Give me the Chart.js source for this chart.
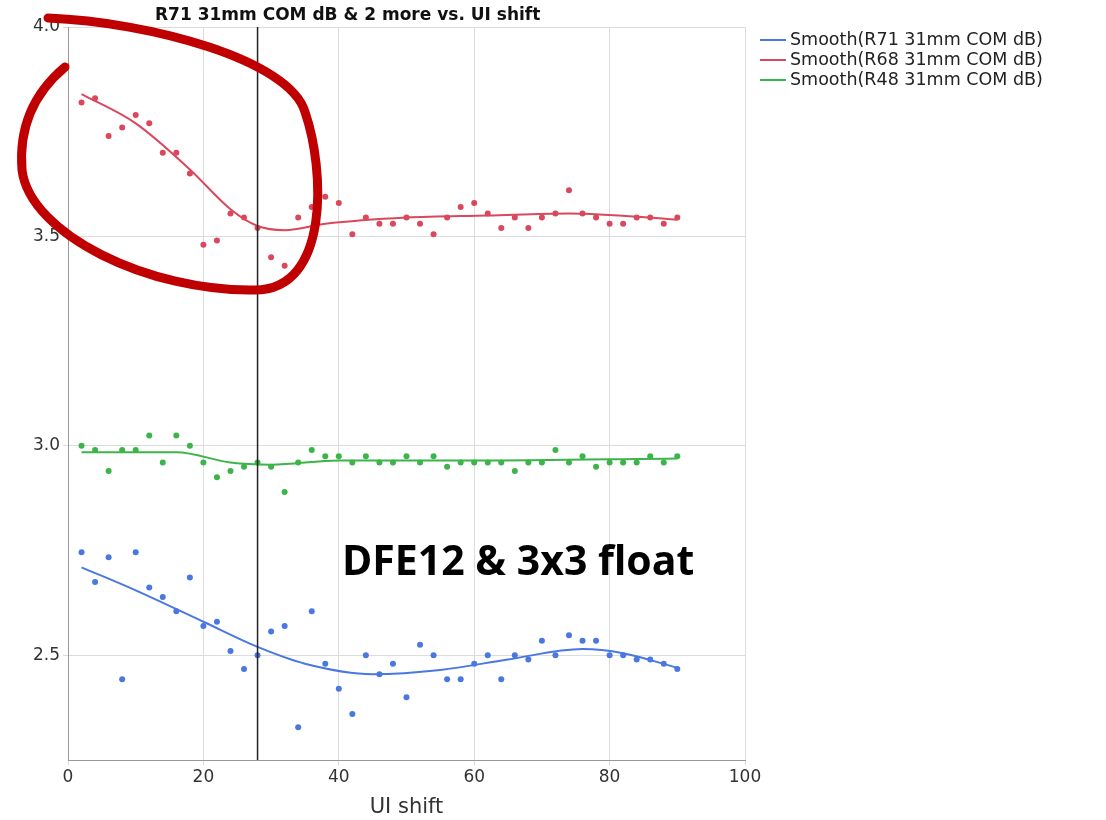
<!DOCTYPE html>
<html>
<head>
<meta charset="utf-8">
<script src="https://cdn.jsdelivr.net/npm/chart.js@4"></script>
<style>
  body { margin: 0; background: #fff; font-family: "Liberation Sans", Arial, sans-serif; }
  #wrap { position: relative; width: 1106px; height: 820px; }
  #title { position: absolute; left: 155px; top: 4px; font-family: "DejaVu Sans", sans-serif; font-weight: bold; font-size: 17px; color: #111; }
  #legend { position: absolute; left: 760px; top: 29px; font-family: "DejaVu Sans", sans-serif; font-size: 17.5px; color: #222; line-height: 20px; }
  #legend span.ln { display: inline-block; width: 26px; height: 2px; vertical-align: middle; margin-right: 4px; }
  #note { position: absolute; left: 342px; top: 531px; font-family: "Open Sans", Calibri, sans-serif; font-weight: bold; font-size: 41px; color: #000; }
</style>
</head>
<body>
<div id="wrap">
  <canvas id="myChart" width="1106" height="820"></canvas>
  <div id="title">R71 31mm COM dB &amp; 2 more vs. UI shift</div>
  <div id="legend">
    <div><span class="ln" style="background:#4a78e0"></span>Smooth(R71 31mm COM dB)</div>
    <div><span class="ln" style="background:#d9485c"></span>Smooth(R68 31mm COM dB)</div>
    <div><span class="ln" style="background:#3cb44a"></span>Smooth(R48 31mm COM dB)</div>
  </div>
  <div id="note">DFE12 &amp; 3x3 float</div>
</div>
<script>
const uiShift = [2,4,6,8,10,12,14,16,18,20,22,24,26,28,30,32,34,36,38,40,42,44,46,48,50,52,54,56,58,60,62,64,66,68,70,72,74,76,78,80,82,84,86,88,90];
const r71 = [2.746,2.675,2.734,2.443,2.746,2.662,2.639,2.605,2.686,2.57,2.58,2.51,2.467,2.50,2.557,2.57,2.328,2.605,2.48,2.42,2.36,2.50,2.455,2.48,2.40,2.525,2.50,2.443,2.443,2.48,2.50,2.443,2.50,2.49,2.535,2.50,2.548,2.535,2.535,2.50,2.50,2.49,2.49,2.48,2.467];
const r68 = [3.82,3.83,3.74,3.76,3.79,3.77,3.70,3.70,3.65,3.48,3.49,3.555,3.545,3.52,3.45,3.43,3.545,3.57,3.595,3.58,3.505,3.545,3.53,3.53,3.545,3.53,3.505,3.545,3.57,3.58,3.555,3.52,3.545,3.52,3.545,3.555,3.61,3.555,3.545,3.53,3.53,3.545,3.545,3.53,3.545];
const r48 = [3.0,2.99,2.94,2.99,2.99,3.025,2.96,3.025,3.0,2.96,2.925,2.94,2.95,2.96,2.95,2.89,2.96,2.99,2.975,2.975,2.96,2.975,2.96,2.96,2.975,2.96,2.975,2.95,2.96,2.96,2.96,2.96,2.94,2.96,2.96,2.99,2.96,2.975,2.95,2.96,2.96,2.96,2.975,2.96,2.975];

const smoothX = [2,10,20,28,35,45,55,65,76,82,90];
const r71Smooth = [2.71,2.655,2.58,2.52,2.48,2.455,2.465,2.49,2.515,2.505,2.47];
const r68SmoothX = [2,10,18,24,28,32,38,50,62,74,90];
const r68Smooth = [3.84,3.77,3.66,3.565,3.525,3.515,3.53,3.545,3.55,3.555,3.54];
const r48SmoothX = [2,16,24,30,40,60,90];
const r48Smooth = [2.985,2.985,2.96,2.955,2.965,2.965,2.97];

const xTicks = [0,20,40,60,80,100];
const yTicks = [2.5,3.0,3.5,4.0];
const markerX = 28;

const blue = "#4a78e0", red = "#d9485c", green = "#3cb44a";

function pts(xs, ys) { return xs.map((x, i) => ({ x: x, y: ys[i] })); }

const overlay = {
  id: "overlay",
  afterDatasetsDraw(chart) {
    const c = chart.ctx, xs = chart.scales.x, a = chart.chartArea;
    const px = xs.getPixelForValue(markerX);
    c.save();
    c.strokeStyle = "#222"; c.lineWidth = 1.5;
    c.beginPath(); c.moveTo(px, a.top); c.lineTo(px, a.bottom); c.stroke();
    // hand-drawn highlight ring
    c.strokeStyle = "#c00000"; c.lineWidth = 9; c.lineCap = "round";
    c.beginPath();
    c.moveTo(48, 18);
    c.bezierCurveTo(150, 22, 290, 60, 305, 112);
    c.bezierCurveTo(325, 170, 330, 290, 255, 290);
    c.bezierCurveTo(150, 292, 30, 235, 22, 170);
    c.bezierCurveTo(18, 120, 40, 88, 65, 67);
    c.stroke();
    c.restore();
  }
};

const ctx = document.getElementById("myChart").getContext("2d");
new Chart(ctx, {
  type: "scatter",
  data: {
    datasets: [
      { data: pts(uiShift, r71), backgroundColor: blue, pointRadius: 3, pointBorderWidth: 0 },
      { data: pts(uiShift, r68), backgroundColor: red, pointRadius: 3, pointBorderWidth: 0 },
      { data: pts(uiShift, r48), backgroundColor: green, pointRadius: 3, pointBorderWidth: 0 },
      { type: "line", data: pts(smoothX, r71Smooth), borderColor: blue, borderWidth: 2, pointRadius: 0, tension: 0.4, cubicInterpolationMode: "monotone" },
      { type: "line", data: pts(r68SmoothX, r68Smooth), borderColor: red, borderWidth: 2, pointRadius: 0, tension: 0.4, cubicInterpolationMode: "monotone" },
      { type: "line", data: pts(r48SmoothX, r48Smooth), borderColor: green, borderWidth: 2, pointRadius: 0, tension: 0.4, cubicInterpolationMode: "monotone" }
    ]
  },
  options: {
    responsive: false,
    animation: false,
    layout: { padding: { top: 27, right: 361, left: 0, bottom: 0 } },
    plugins: { legend: { display: false }, tooltip: { enabled: false } },
    scales: {
      x: {
        type: "linear", min: 0, max: 100,
        afterBuildTicks: (s) => { s.ticks = xTicks.map(v => ({ value: v })); },
        afterFit: (s) => { s.height = 60; },
        grid: { color: "#dcdcdc", drawTicks: true, tickLength: 5 },
        border: { color: "#999" },
        ticks: { color: "#333", font: { family: "DejaVu Sans", size: 17 }, padding: 2 },
        title: { display: true, text: "UI shift", color: "#333", font: { family: "DejaVu Sans", size: 21 }, padding: 0 }
      },
      y: {
        min: 2.25, max: 4.0,
        afterBuildTicks: (s) => { s.ticks = yTicks.map(v => ({ value: v })); },
        afterFit: (s) => { s.width = 68; },
        grid: { color: "#dcdcdc", tickLength: 5 },
        border: { color: "#999" },
        ticks: { color: "#333", font: { family: "DejaVu Sans", size: 17 }, callback: (v) => v.toFixed(1) }
      }
    }
  },
  plugins: [overlay]
});
</script>
</body>
</html>
